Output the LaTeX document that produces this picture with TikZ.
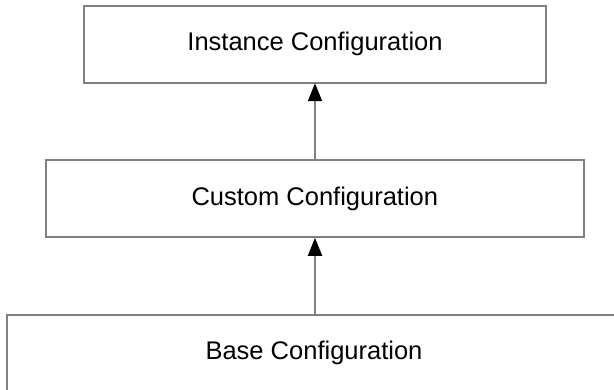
\documentclass[tikz,border=0pt]{standalone}
\usepackage{fontspec}
\setmainfont{Liberation Sans}
\usetikzlibrary{arrows.meta}
\definecolor{edgegray}{RGB}{128,128,128}
\tikzset{
  layerbox/.style={draw=edgegray, line width=2pt, fill=white, rectangle,
    inner sep=0pt, font=\fontsize{25.5pt}{30pt}\selectfont, text=black},
  inherits/.style={draw=edgegray, line width=2pt,
    -{Triangle[length=18pt, width=14pt, fill=black, color=black]}, shorten >=-0.5pt}
}
\begin{document}
\begin{tikzpicture}[x=1pt, y=1pt]
  \useasboundingbox (0,0) rectangle (614,-389);
  \clip (0,0) rectangle (614,-389);
  \node[layerbox, minimum width=462pt, minimum height=76.7pt] (inst) at (315,-44.35) {Instance Configuration};
  \node[layerbox, minimum width=538.3pt, minimum height=77pt] (cust) at (314.85,-198.8) {Custom Configuration};
  \node[layerbox, minimum width=614pt, minimum height=77pt] (base) at (314,-353.2) {Base Configuration};
  \draw[inherits] (cust.north -| inst.south) -- (inst.south);
  \draw[inherits] (base.north -| inst.south) -- (cust.south -| inst.south);
\end{tikzpicture}
\end{document}
